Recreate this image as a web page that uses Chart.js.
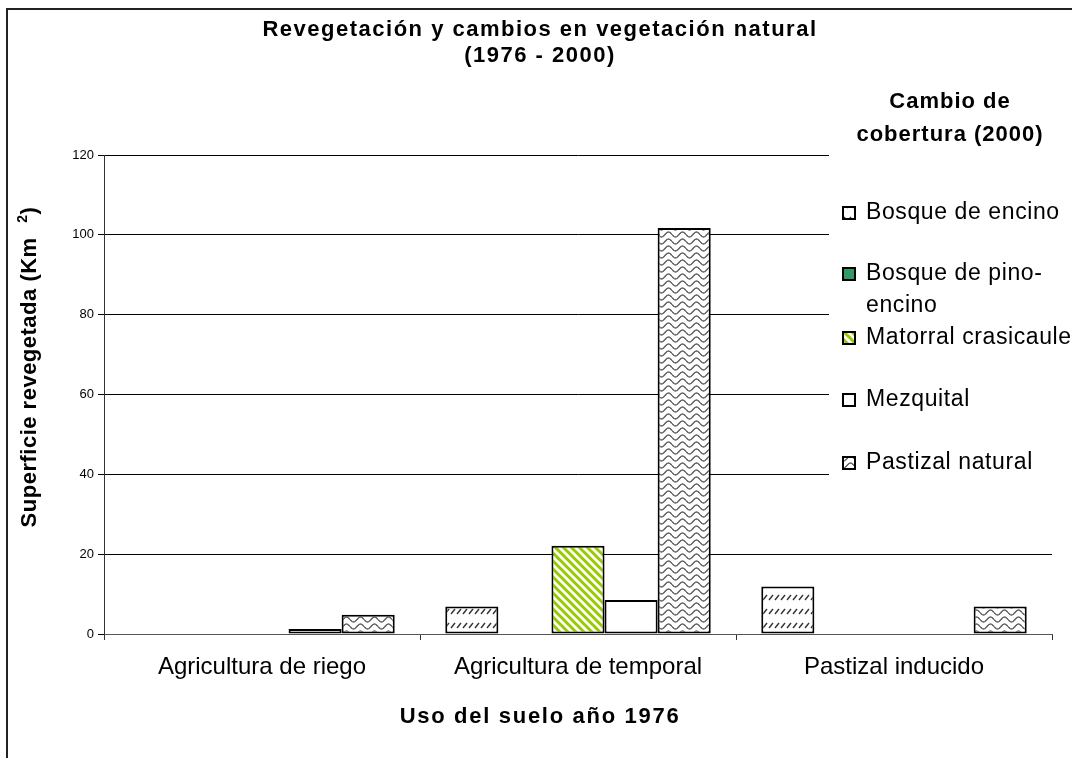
<!DOCTYPE html>
<html>
<head>
<meta charset="utf-8">
<script src="https://cdn.jsdelivr.net/npm/chart.js@4/dist/chart.umd.min.js"></script>
<style>
  html, body { margin: 0; padding: 0; background: #fff; }
  #wrap { position: relative; width: 1072px; height: 758px; overflow: hidden; }
</style>
</head>
<body>
<div id="wrap"><canvas id="chart" width="1072" height="758"></canvas></div>
<script>
const categories = ['Agricultura de riego', 'Agricultura de temporal', 'Pastizal inducido'];
const seriesNames = ['Bosque de encino', 'Bosque de pino-encino', 'Matorral crasicaule', 'Mezquital', 'Pastizal natural'];
const bosqueEncino = [null, 6.9, 11.9];
const bosquePinoEncino = [null, null, null];
const matorralCrasicaule = [null, 22.1, null];
const mezquital = [1.25, 8.5, null];
const pastizalNatural = [4.8, 101.7, 6.9];
const yTicks = [0, 20, 40, 60, 80, 100, 120];

const FONT = "'Liberation Sans', Arial, sans-serif";

function tile(w, h, draw) {
    const c = document.createElement('canvas');
    c.width = w; c.height = h;
    const g = c.getContext('2d');
    g.fillStyle = '#fff';
    g.fillRect(0, 0, w, h);
    draw(g);
    return document.getElementById('chart').getContext('2d').createPattern(c, 'repeat');
}

// short slanted dashes in rows
const encinoFill = tile(6, 14, g => {
    g.strokeStyle = '#333';
    g.lineWidth = 1.4;
    g.beginPath();
    g.moveTo(1, 12); g.lineTo(5, 7);
    g.stroke();
});
// green / white diagonal stripes
const matorralFill = tile(8, 8, g => {
    g.strokeStyle = '#99cc00';
    g.lineWidth = 3;
    g.beginPath();
    g.moveTo(-2, -2); g.lineTo(10, 10);
    g.moveTo(-10, -2); g.lineTo(2, 10);
    g.moveTo(6, -2); g.lineTo(18, 10);
    g.stroke();
});
// wavy lines
const pastizalFill = tile(14, 7, g => {
    g.strokeStyle = '#555';
    g.lineWidth = 1.3;
    g.beginPath();
    for (let x = 0; x <= 14; x += 0.5) {
        const y = 3.5 + 2.5 * Math.sin(x / 14 * Math.PI * 2);
        if (x === 0) g.moveTo(x, y); else g.lineTo(x, y);
    }
    g.stroke();
});

const fills = [encinoFill, '#339966', matorralFill, '#ffffff', pastizalFill];
const seriesData = [bosqueEncino, bosquePinoEncino, matorralCrasicaule, mezquital, pastizalNatural];

const decorations = {
    id: 'decorations',
    afterDraw(chart) {
        const ctx = chart.ctx;
        ctx.save();

        // outer frame (top and left only visible)
        ctx.strokeStyle = '#222';
        ctx.lineWidth = 2;
        ctx.beginPath();
        ctx.moveTo(7, 760); ctx.lineTo(7, 9); ctx.lineTo(1080, 9);
        ctx.stroke();

        // main title
        ctx.fillStyle = '#000';
        ctx.textAlign = 'center';
        ctx.textBaseline = 'middle';
        ctx.font = 'bold 22px ' + FONT;
        ctx.letterSpacing = '1.5px';
        ctx.fillText('Revegetación y cambios en vegetación natural', 540, 30);
        ctx.fillText('(1976 - 2000)', 540, 56);

        // x axis title
        ctx.letterSpacing = '1.7px';
        ctx.fillText('Uso del suelo año 1976', 540, 717);

        // y axis title with superscript
        ctx.save();
        ctx.translate(30, 367);
        ctx.rotate(-Math.PI / 2);
        const main = 'Superficie revegetada (Km ';
        ctx.font = 'bold 22px ' + FONT;
        ctx.letterSpacing = '0.5px';
        const w1 = ctx.measureText(main).width;
        ctx.font = 'bold 14px ' + FONT;
        const w2 = ctx.measureText('2').width;
        ctx.font = 'bold 22px ' + FONT;
        const w3 = ctx.measureText(')').width;
        const gap = 8;
        let x = -(w1 + gap + w2 + w3) / 2;
        ctx.textAlign = 'left';
        ctx.fillText(main, x, 0);
        x += w1 + gap;
        ctx.font = 'bold 14px ' + FONT;
        ctx.fillText('2', x, -7);
        x += w2;
        ctx.font = 'bold 22px ' + FONT;
        ctx.fillText(')', x, 0);
        ctx.restore();

        // legend panel
        ctx.fillStyle = '#fff';
        ctx.fillRect(829, 70, 243, 440);
        ctx.fillStyle = '#000';
        ctx.textAlign = 'center';
        ctx.font = 'bold 22px ' + FONT;
        ctx.letterSpacing = '1px';
        ctx.fillText('Cambio de', 950, 102);
        ctx.fillText('cobertura (2000)', 950, 135);

        ctx.letterSpacing = '0.6px';
        ctx.font = '23px ' + FONT;
        ctx.textAlign = 'left';
        const rows = [[213], [274, 306], [338], [400], [463]];
        const labelLines = [['Bosque de encino'], ['Bosque de pino-', 'encino'], ['Matorral crasicaule'], ['Mezquital'], ['Pastizal natural']];
        rows.forEach((ys, i) => {
            const by = ys[0];
            ctx.fillStyle = fills[i];
            ctx.fillRect(843, by - 6, 12, 12);
            ctx.strokeStyle = '#000';
            ctx.lineWidth = 2;
            ctx.strokeRect(843, by - 6, 12, 12);
            ctx.fillStyle = '#000';
            labelLines[i].forEach((t, j) => ctx.fillText(t, 866, ys[j]));
        });

        ctx.restore();
    }
};

new Chart(document.getElementById('chart'), {
    type: 'bar',
    data: {
        labels: categories,
        datasets: seriesNames.map((name, i) => ({
            label: name,
            data: seriesData[i],
            backgroundColor: fills[i],
            borderColor: '#000',
            borderWidth: 2,
            borderSkipped: false,
            categoryPercentage: 0.84,
            barPercentage: 1.0
        }))
    },
    options: {
        responsive: false,
        animation: false,
        devicePixelRatio: 1,
        layout: { padding: { top: 155, right: 20, left: 0, bottom: 0 } },
        plugins: {
            legend: { display: false },
            title: { display: false },
            tooltip: { enabled: false }
        },
        scales: {
            x: {
                afterFit: s => { s.height = 124; },
                grid: { drawOnChartArea: false, offset: true, tickLength: 6, color: '#333' },
                border: { color: '#555', width: 1 },
                ticks: { color: '#000', font: { family: FONT, size: 24 }, padding: 13 }
            },
            y: {
                min: 0,
                max: 120,
                afterFit: s => { s.width = 104; },
                afterBuildTicks: s => { s.ticks = yTicks.map(v => ({ value: v })); },
                grid: { color: '#000', lineWidth: 1, tickLength: 6 },
                border: { color: '#333', width: 1 },
                ticks: { color: '#000', font: { family: FONT, size: 13 }, padding: 4 }
            }
        }
    },
    plugins: [decorations]
});
</script>
</body>
</html>
